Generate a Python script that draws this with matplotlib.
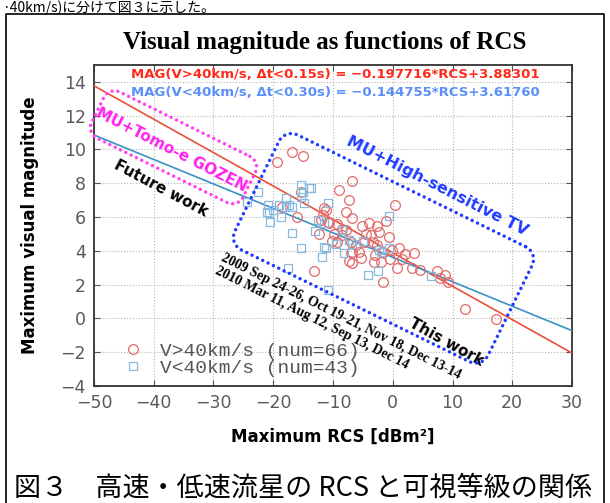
import numpy as np
import matplotlib
matplotlib.use('Agg')
import matplotlib.pyplot as plt
from matplotlib.lines import Line2D

# --- meteor data: maximum RCS [dBm^2] vs. maximum visual magnitude ---
red_rcs = [-19.4, -16.8, -15.0, -15.3, -18.5, -16.1, -13.2, -11.2, -11.7, -12.0,
           -10.9, -9.0, -6.8, -7.4, -6.9, -9.3, -7.9, -9.3, -7.05, -6.9,
           -7.3, -5.1, -3.9, -2.6, -1.1, 0.33, -4.4, -3.7, -2.3, -0.67,
           -3.3, -7.05, -6.8, -5.7, -2.6, -1.8, -0.1, 1.0, -3.0, -3.2,
           -1.9, 0.7, -1.6, 3.5, 3.2, 2.0, 7.4, 8.8, 9.2, 7.9,
           12.1, 17.2, 4.6, -8.45, -6.2, -10.7, -11.5, -8.5, -10.2, -4.8,
           1.6, -12.3, -7.9, -9.8, -0.5, -5.3]
red_mag = [9.28, 9.87, 9.62, 7.5, 6.6, 6.0, 2.83, 6.42, 6.15, 5.83,
           5.73, 7.6, 8.15, 7.0, 5.95, 5.59, 5.24, 4.55, 3.86, 3.27,
           3.4, 5.47, 5.67, 5.47, 5.79, 6.72, 5.0, 4.94, 5.14, 4.84,
           4.55, 4.55, 3.96, 3.96, 4.35, 3.96, 4.05, 4.15, 3.76, 3.36,
           3.31, 2.97, 2.15, 3.86, 2.97, 3.8, 2.83, 2.57, 2.18, 2.38,
           0.55, -0.05, 2.87, 4.94, 4.35, 5.63, 6.52, 5.3, 4.6, 4.5,
           3.5, 5.0, 6.3, 5.0, 3.5, 3.6]

blue_rcs = [-22.5, -24.4, -20.8, -20.7, -20.6, -18.7, -17.9, -16.8, -15.4, -14.0,
            -15.1, -14.8, -16.8, -15.4, -17.6, -11.2, -11.8, -8.2, -10.9, -10.9,
            -17.9, -19.0, -17.3, -21.1, -13.7, -11.5, -7.3, -8.5, -0.7, -11.5,
            -2.45, -4.1, -2.05, 6.4, -6.8, -2.3, -0.67, -15.3, -12.5, -9.5,
            -5.0, -20.0, -13.0]
blue_mag = [7.5, 6.9, 6.72, 6.22, 5.73, 6.03, 6.62, 6.62, 7.9, 7.7,
            7.5, 6.82, 5.04, 4.15, 2.97, 4.15, 3.66, 3.86, 1.69, 6.82,
            7.1, 6.72, 6.72, 6.32, 7.74, 5.63, 4.64, 5.24, 6.07, 4.25,
            2.83, 2.57, 3.96, 2.5, 4.41, 4.05, 4.15, 7.2, 5.8, 4.4,
            4.6, 6.4, 5.2]

# linear fits
red_fit = (-0.197716, 3.88301)
blue_fit = (-0.144755, 3.61760)

W, H = 610, 503
fig = plt.figure(figsize=(W / 100, H / 100), dpi=100)


def fx(x):
    return x / W


def fy(y):
    return 1 - y / H


ax = fig.add_axes([fx(94), fy(386), (572 - 94) / W, (386 - 65) / H])

xx = np.array([-50, 30])
ax.plot(xx, red_fit[0] * xx + red_fit[1], color='#e8503a', lw=1.2, zorder=3)
ax.plot(xx, blue_fit[0] * xx + blue_fit[1], color='#3a93c3', lw=1.2, zorder=3)

ax.plot(red_rcs, red_mag, 'o', ms=7, mfc='none', mec='#e26a6a', mew=0.9,
        label='V>40km/s (num=66)', zorder=4)
ax.plot(blue_rcs, blue_mag, 's', ms=6.2, mfc='none', mec='#88badf', mew=0.9,
        label='V<40km/s (num=43)', zorder=4)

ax.set_xlim(-50, 30)
ax.set_ylim(-4, 15)
ax.set_xticks(range(-50, 31, 10))
ax.set_yticks(range(-4, 15, 2))
ax.grid(True, color='#b4b4b4', ls=':', lw=0.8)
ax.set_axisbelow(True)
for s in ax.spines.values():
    s.set_color('#333333')
    s.set_linewidth(1.3)
ax.tick_params(direction='in', top=True, right=True, length=4, color='#555555',
               labelsize=12.5, labelcolor='#5a5a5a', pad=6)

ax.set_xlabel('Maximum RCS [dBm²]', fontsize=12, fontweight='bold', labelpad=11)
ax.set_ylabel('Maximum visual magnitude', fontsize=12, fontweight='bold', labelpad=15)

leg = ax.legend(loc='lower left', bbox_to_anchor=(0.045, 0.005), frameon=False,
                prop={'family': 'Liberation Mono', 'size': 14},
                handlelength=1.0, handletextpad=0.9, labelspacing=-0.05,
                borderaxespad=0)
for t in leg.get_texts():
    t.set_color('#555555')

# title and fit equations
fig.text(fx(325), fy(42), 'Visual magnitude as functions of RCS', ha='center', va='center',
         family='Liberation Serif', fontweight='bold', fontsize=18)
fig.text(fx(335), fy(75), 'MAG(V>40km/s, Δt<0.15s) = −0.197716*RCS+3.88301',
         ha='center', va='center', color='#ff2a1a', fontweight='bold', fontsize=9.5)
fig.text(fx(335), fy(93), 'MAG(V<40km/s, Δt<0.30s) = −0.144755*RCS+3.61760',
         ha='center', va='center', color='#5b8ff9', fontweight='bold', fontsize=9.5)


def rounded_box(cx, cy, length, width, ang, r, n=12):
    a, b = length / 2, width / 2
    pts = []
    for (ux, uy, t0) in [(a - r, -(b - r), -90), (a - r, b - r, 0),
                         (-(a - r), b - r, 90), (-(a - r), -(b - r), 180)]:
        for t in np.linspace(np.radians(t0), np.radians(t0 + 90), n):
            pts.append((ux + r * np.cos(t), uy + r * np.sin(t)))
    pts.append(pts[0])
    pts = np.array(pts)
    th = np.radians(ang)
    X = cx + pts[:, 0] * np.cos(th) - pts[:, 1] * np.sin(th)
    Y = cy + pts[:, 0] * np.sin(th) + pts[:, 1] * np.cos(th)
    return fx(X), fy(Y)


bx, by = rounded_box(383.5, 248.3, 282, 128, 26.1, 14)
fig.add_artist(Line2D(bx, by, transform=fig.transFigure, color='#1f3cff', lw=2.5,
                      ls=(0, (0.01, 1.7)), dash_capstyle='round', zorder=6))
mx, my = rounded_box(173.5, 147.3, 169, 51.5, 26.3, 12)
fig.add_artist(Line2D(mx, my, transform=fig.transFigure, color='#ff44ee', lw=2.5,
                      ls=(0, (0.01, 1.7)), dash_capstyle='round', zorder=6))

# region annotations
fig.text(fx(171), fy(150), 'MU+Tomo-e GOZEN', rotation=-27, rotation_mode='anchor',
         ha='center', va='center', color='#ff22ee', fontweight='bold', fontsize=11)
fig.text(fx(161), fy(188), 'Future work', rotation=-28, rotation_mode='anchor',
         ha='center', va='center', color='black', fontweight='bold', fontsize=11)
fig.text(fx(437), fy(186), 'MU+High-sensitive TV', rotation=-27, rotation_mode='anchor',
         ha='center', va='center', color='#1f3cff', fontweight='bold', fontsize=11.5)
fig.text(fx(446), fy(342), 'This work', rotation=-29, rotation_mode='anchor',
         ha='center', va='center', color='black', fontweight='bold', fontsize=11)
fig.text(fx(222), fy(257), '2009 Sep 24-26, Oct 19-21, Nov 18, Dec 13-14', rotation=-26.5,
         rotation_mode='anchor', ha='left', va='center', family='Liberation Serif',
         fontweight='bold', fontsize=10)
fig.text(fx(216), fy(270), '2010 Mar 11, Aug 12, Sep 13, Dec 14', rotation=-26.5,
         rotation_mode='anchor', ha='left', va='center', family='Liberation Serif',
         fontweight='bold', fontsize=10)

# page frame and surrounding document text
fig.add_artist(Line2D([fx(6), fx(6), fx(604), fx(604)], [0, fy(14), fy(14), 0],
                      transform=fig.transFigure, color='black', lw=1.2))
jp = ['Noto Sans CJK JP', 'DejaVu Sans']
fig.text(fx(2), fy(0), '·40km/s)に分けて図３に示した。', ha='left', va='top',
         family=jp, fontsize=10)
fig.text(fx(14), fy(488), '図３　高速・低速流星の RCS と可視等級の関係', ha='left', va='center',
         family=jp, fontsize=19.5)

fig.savefig('out.png', dpi=100)
